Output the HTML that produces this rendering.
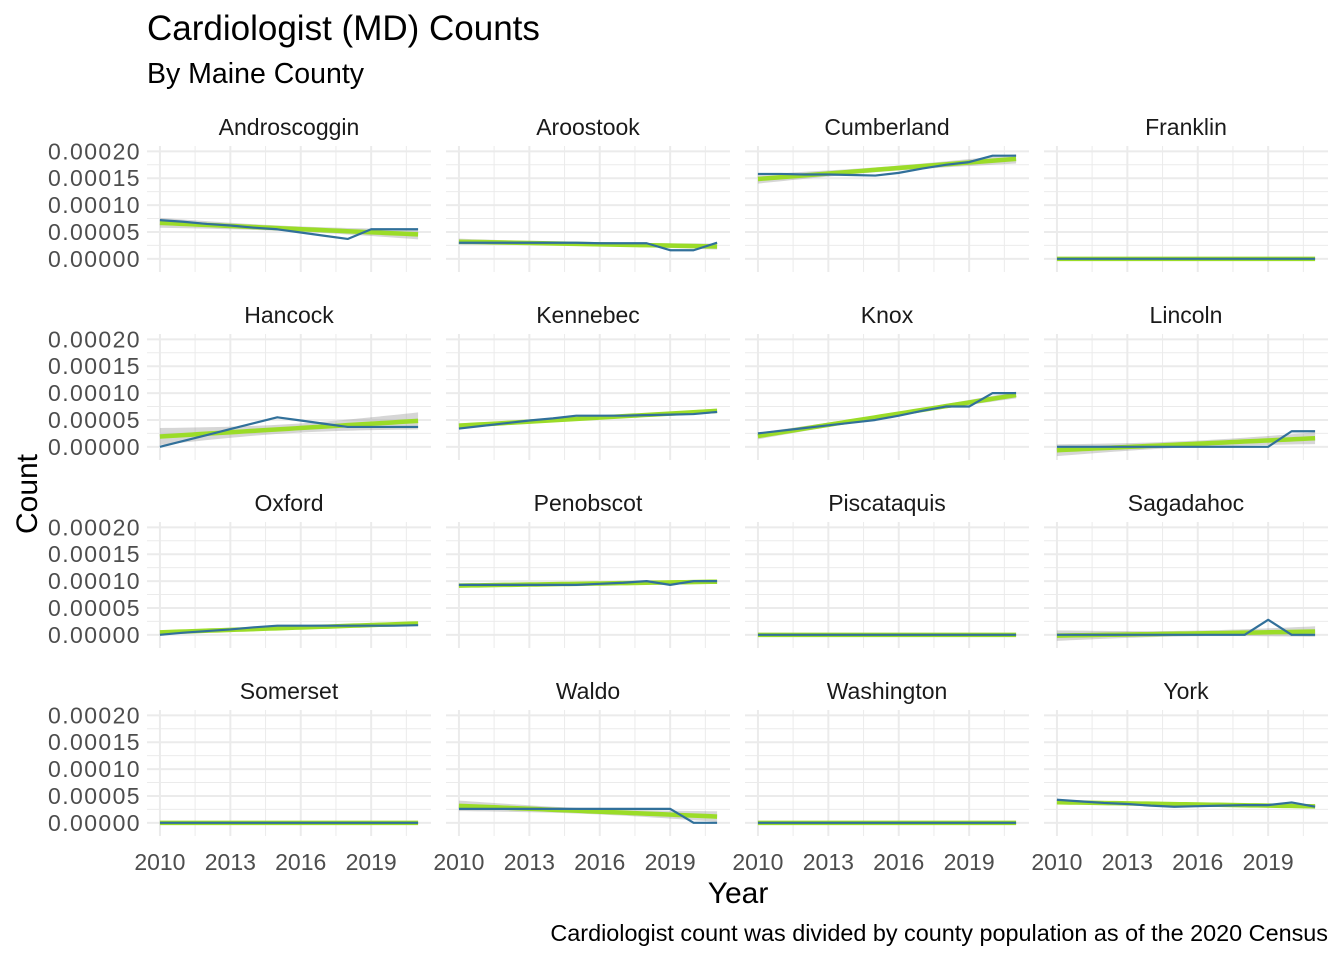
<!DOCTYPE html>
<html><head><meta charset="utf-8"><style>
body{margin:0;background:#fff;font-family:"Liberation Sans",Arial,sans-serif}
svg{display:block}
</style></head><body>
<svg id="chart" width="1344" height="960">
<text x="147" y="40" font-size="35" fill="#000">Cardiologist (MD) Counts</text>
<text x="147" y="83" font-size="28.5" fill="#000">By Maine County</text>
<text x="738" y="903" font-size="30" text-anchor="middle" fill="#000">Year</text>
<text transform="translate(37,494) rotate(-90)" font-size="30" text-anchor="middle" fill="#000">Count</text>
<text x="1328" y="941" font-size="23.4" text-anchor="end" fill="#000">Cardiologist count was divided by county population as of the 2020 Census</text>
</svg>
<script>
const years=[2010,2011,2012,2013,2014,2015,2016,2017,2018,2019,2020,2021];
const counties=["Androscoggin","Aroostook","Cumberland","Franklin","Hancock","Kennebec","Knox","Lincoln","Oxford","Penobscot","Piscataquis","Sagadahoc","Somerset","Waldo","Washington","York"];
// values in units of 1e-6 (count per population)
const androscoggin=[72,69,65,62,58,55,49,43,37,55,55,55];
const aroostook=[30,30,30,30,30,30,29,29,29,16,16,30];
const cumberland=[158,158,157,157,156,155,160,168,175,180,192,192];
const franklin=[0,0,0,0,0,0,0,0,0,0,0,0];
const hancock=[0,11,22,33,44,55,49,43,37,37,37,37];
const kennebec=[34,39,44,49,53,58,58,58,59,60,61,65];
const knox=[25,30,35,40,45,50,58,67,75,75,100,100];
const lincoln=[0,0,0,0,0,0,0,0,0,0,29,29];
const oxford=[0,4,7,10,14,17,17,17,17,17,17,18];
const penobscot=[93,93,93,93,93,93,95,97,100,93,100,100];
const piscataquis=[0,0,0,0,0,0,0,0,0,0,0,0];
const sagadahoc=[0,0,0,0,0,0,0,0,0,28,0,0];
const somerset=[0,0,0,0,0,0,0,0,0,0,0,0];
const waldo=[26,26,26,26,26,26,26,26,26,26,0,0];
const washington=[0,0,0,0,0,0,0,0,0,0,0,0];
const york=[43,40,37,35,32,30,31,32,33,33,38,30];
const series=[androscoggin,aroostook,cumberland,franklin,hancock,kennebec,knox,lincoln,oxford,penobscot,piscataquis,sagadahoc,somerset,waldo,washington,york];
const yTicks=[0,50,100,150,200];
const yTickLabels=["0.00000","0.00005","0.00010","0.00015","0.00020"];
const xTicks=[2010,2013,2016,2019];

const NS="http://www.w3.org/2000/svg";
const svg=document.getElementById("chart");
function mk(tag,attrs,parent){const e=document.createElementNS(NS,tag);for(const k in attrs)e.setAttribute(k,attrs[k]);(parent||svg).appendChild(e);return e;}
const PW=284,PH=126,X0=147,Y0=146,DX=299,DY=188;
const xMin=2009.45,xMax=2021.55,yMin=-24.5,yMax=210;
function sx(c,v){return X0+c*DX+(v-xMin)/(xMax-xMin)*PW;}
function sy(r,v){return Y0+r*DY+(yMax-v)/(yMax-yMin)*PH;}

for(let i=0;i<16;i++){
  const r=Math.floor(i/4),c=i%4,d=series[i];
  const g=mk("g",{});
  
  
  for(let v=-25;v<=200;v+=25){ if(v<yMin)continue;
    const major=v%50===0;
    mk("line",{x1:X0+c*DX,x2:X0+c*DX+PW,y1:sy(r,v),y2:sy(r,v),stroke:"#ebebeb","stroke-width":major?2:1},g);}
  for(let v=2008.5;v<=2022;v+=1.5){ if(v<xMin||v>xMax)continue;
    const major=(v-2010)%3===0;
    mk("line",{x1:sx(c,v),x2:sx(c,v),y1:Y0+r*DY,y2:Y0+r*DY+PH,stroke:"#ebebeb","stroke-width":major?2:1},g);}
  const st=mk("text",{x:X0+c*DX+PW/2,y:Y0+r*DY-11,"font-size":"23","text-anchor":"middle",fill:"#1a1a1a"},g);
  st.textContent=counties[i];
  
  
  if(c===0){yTicks.forEach((t,k)=>{const tl=mk("text",{x:141,y:sy(r,t)+8,"font-size":"23","letter-spacing":"1.4","text-anchor":"end",fill:"#4d4d4d"});tl.textContent=yTickLabels[k];
    
    });}
  if(r===3){xTicks.forEach(t=>{const tl=mk("text",{x:sx(c,t),y:870,"font-size":"23","text-anchor":"middle",fill:"#4d4d4d"});tl.textContent=t;
    
    });}
  const n=years.length,mx=years.reduce((a,b)=>a+b)/n,my=d.reduce((a,b)=>a+b)/n;
  let sxx=0,sxy=0;years.forEach((x,k)=>{sxx+=(x-mx)**2;sxy+=(x-mx)*(d[k]-my);});
  const b=sxy/sxx,a=my-b*mx;let sse=0;years.forEach((x,k)=>{sse+=(d[k]-a-b*x)**2;});
  const s=Math.sqrt(sse/(n-2)),tq=2.228;
  const up=[],lo=[],mid=[];
  for(let k=0;k<=40;k++){const x=2010+11*k/40,f=a+b*x,se=tq*s*Math.sqrt(1/n+(x-mx)**2/sxx);
    up.push(sx(c,x)+","+sy(r,f+se));lo.push(sx(c,x)+","+sy(r,f-se));mid.push(sx(c,x)+","+sy(r,f));}
  const band=mk("polygon",{points:up.concat(lo.reverse()).join(" "),fill:"#999","fill-opacity":"0.4"},g);
  
  
  const fit=mk("polyline",{points:mid.join(" "),fill:"none",stroke:"#9bdc28","stroke-width":"4.5"},g);
  
  
  const ln=mk("polyline",{points:years.map((x,k)=>sx(c,x)+","+sy(r,d[k])).join(" "),fill:"none",stroke:"#31709a","stroke-width":"2.2","stroke-linejoin":"round"},g);
  
  
}
</script>
</body></html>
